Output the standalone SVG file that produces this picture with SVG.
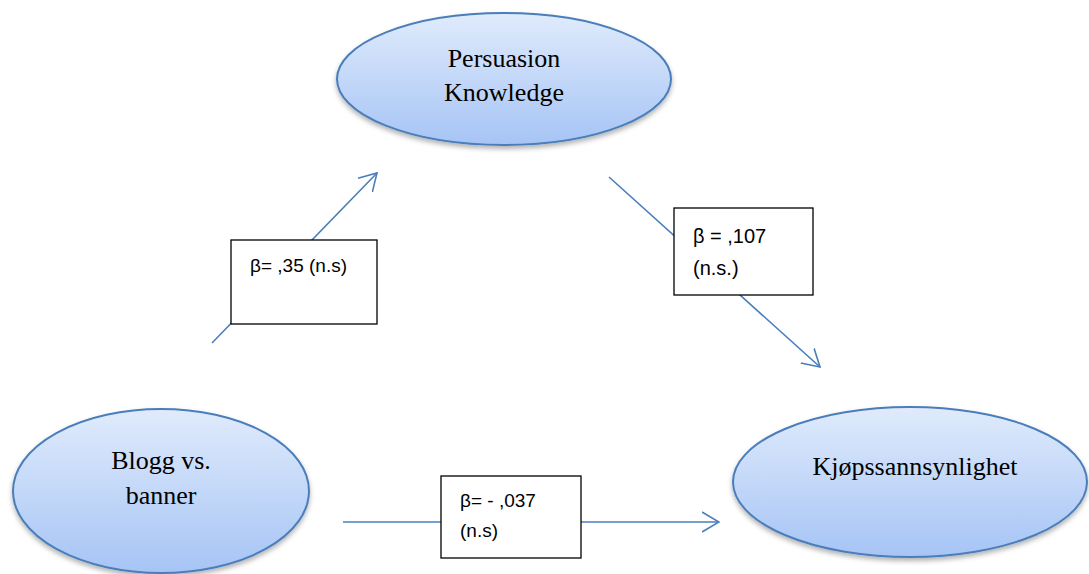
<svg xmlns="http://www.w3.org/2000/svg" width="1089" height="574" viewBox="0 0 1089 574">
  <defs>
    <linearGradient id="ellFill" x1="0" y1="0" x2="0" y2="1">
      <stop offset="0" stop-color="#e0ebfc"/>
      <stop offset="1" stop-color="#a6c4f5"/>
    </linearGradient>
    <filter id="shadow" x="-10%" y="-10%" width="120%" height="130%">
      <feDropShadow dx="0" dy="3" stdDeviation="2.5" flood-color="#000" flood-opacity="0.3"/>
    </filter>
    <marker id="arrow" viewBox="0 0 18 24" refX="17" refY="12" markerWidth="18" markerHeight="24" markerUnits="userSpaceOnUse" orient="auto">
      <path d="M0,2 L17,12 L0,22" fill="none" stroke="#4a7ebb" stroke-width="1.6"/>
    </marker>
    <style>
      .ell { fill: url(#ellFill); stroke: #4a7ebb; stroke-width: 2; filter: url(#shadow); }
      .ntext { font-family: "Liberation Serif", "Times New Roman", serif; font-size: 26px; fill: #000; text-anchor: middle; }
      .conn { stroke: #4a7ebb; stroke-width: 1.6; fill: none; marker-end: url(#arrow); }
      .box { fill: #fff; stroke: #000; stroke-width: 1.3; }
      .btext { font-family: "Liberation Sans", Arial, sans-serif; font-size: 19px; fill: #000; }
    </style>
  </defs>

  <g id="connectors">
    <line class="conn" x1="212" y1="343" x2="377" y2="173"/>
    <line class="conn" x1="609" y1="177" x2="820" y2="367"/>
    <line class="conn" x1="343" y1="522" x2="719" y2="522"/>
  </g>

  <g id="node-persuasion">
    <ellipse class="ell" cx="504" cy="79" rx="167" ry="66"/>
    <text class="ntext" x="504" y="67">Persuasion</text>
    <text class="ntext" x="504" y="101">Knowledge</text>
  </g>

  <g id="node-blogg">
    <ellipse class="ell" cx="161" cy="491" rx="148" ry="82"/>
    <text class="ntext" x="161" y="469">Blogg vs.</text>
    <text class="ntext" x="161" y="504">banner</text>
  </g>

  <g id="node-kjops">
    <ellipse class="ell" cx="910" cy="482" rx="177" ry="75"/>
    <text class="ntext" x="915" y="475">Kjøpssannsynlighet</text>
  </g>

  <g id="label-box-1">
    <rect class="box" x="231" y="240" width="146" height="84"/>
    <text class="btext" x="250" y="272">β= ,35 (n.s)</text>
  </g>

  <g id="label-box-2">
    <rect class="box" x="674" y="208" width="139" height="87"/>
    <text class="btext" x="693" y="243" style="font-size:20px">β = ,107</text>
    <text class="btext" x="693" y="275" style="font-size:20px">(n.s.)</text>
  </g>

  <g id="label-box-3">
    <rect class="box" x="441" y="476" width="140" height="82"/>
    <text class="btext" x="460" y="507">β= - ,037</text>
    <text class="btext" x="460" y="537">(n.s)</text>
  </g>
</svg>
